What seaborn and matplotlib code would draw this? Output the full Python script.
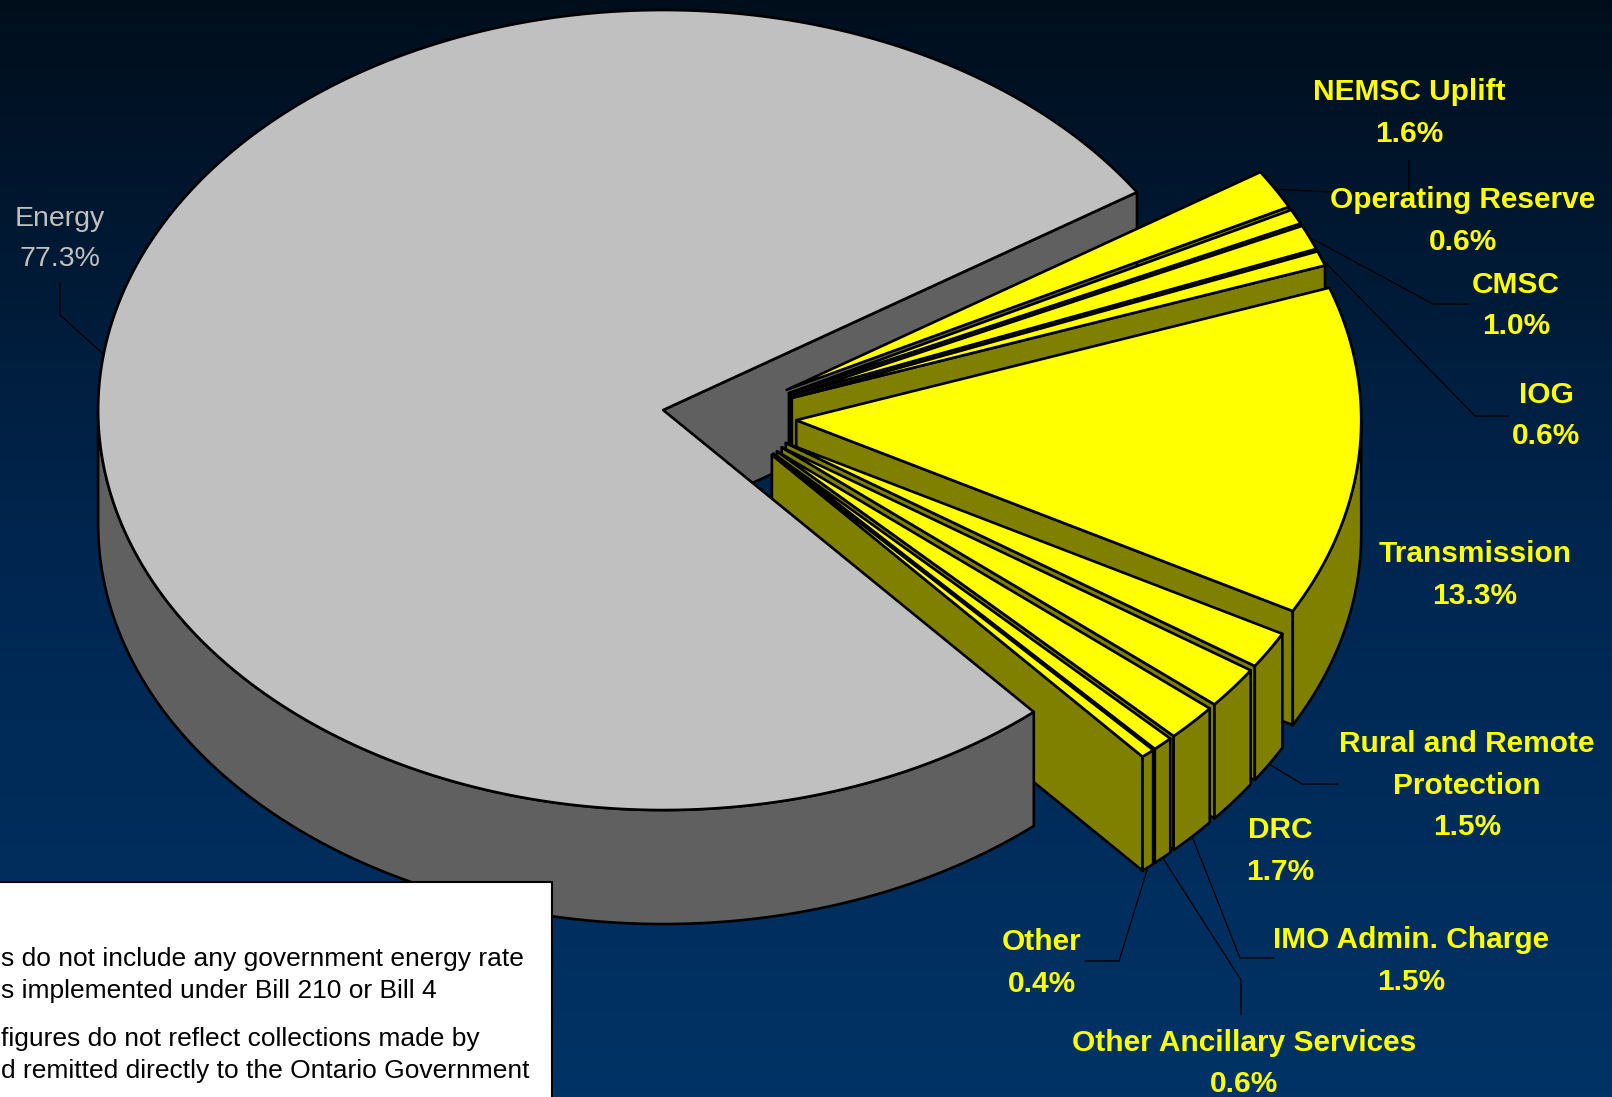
"""
Ontario market charges - exploded 3D pie, rebuilt with seaborn/matplotlib
"""

#Packages:
import numpy as np
import seaborn as sns
import matplotlib.pyplot as plt
from matplotlib.patches import Polygon, Rectangle
from matplotlib.colors import LinearSegmentedColormap

#-----------------------------------
#Data:
labels = ["Energy", "NEMSC Uplift", "Operating Reserve", "CMSC", "IOG",
          "Transmission", "Rural and Remote\nProtection", "DRC",
          "IMO Admin. Charge", "Other Ancillary Services", "Other"]
shares = [77.3, 1.6, 0.6, 1.0, 0.6, 13.3, 1.5, 1.7, 1.5, 0.6, 0.4]

note_lines = ["s do not include any government energy rate",
              "s implemented under Bill 210 or Bill 4",
              "figures do not reflect collections made by",
              "d remitted directly to the Ontario Government"]

#-----------------------------------
#Layout (pixels):
CX, CY = 723, 416        # pie centre
RX, RY = 565, 400        # ellipse radii
DEPTH = 114              # pie thickness
START = -49              # Energy starts here, slices run clockwise
explode = [0.107] + [0.13] * 10
top_colors = ["#c0c0c0"] + ["#ffff00"] * 10
side_colors = ["#606060"] + ["#808000"] * 10

# first line centre of every label
label_xy = [(60, 219), (1409, 92), (1463, 200), (1516, 285), (1546, 395),
            (1475, 554), (1467, 744), (1280, 830), (1411, 940),
            (1244, 1043), (1042, 942)]
# leader lines: anchor on top or bottom of the slice, then elbow points
leaders = {0: ("top", [(60, 315), (60, 282)]),
           1: ("top", [(1409, 196), (1409, 160)]),
           3: ("top", [(1433, 304), (1468, 304)]),
           4: ("top", [(1475, 416), (1509, 416)]),
           6: ("bottom", [(1302, 784), (1338, 784)]),
           8: ("bottom", [(1240, 958), (1274, 958)]),
           9: ("bottom", [(1241, 980), (1241, 1015)]),
           10: ("bottom", [(1119, 961), (1085, 961)])}


#-----------------------------------
#Functions:
def to_px(X, Y, z=0.0):
    return CX + RX * np.asarray(X), CY - RY * np.asarray(Y) + DEPTH * np.asarray(z)


def poly(X, Y, Z):
    sx, sy = to_px(X, Y, Z)
    return np.column_stack([sx, sy])


#-----------------------------------
#Figure:
sns.set_theme(style="white")
plt.rcParams['font.family'] = ['Liberation Sans', 'DejaVu Sans']

fig = plt.figure(figsize=(16.12, 10.97), dpi=100)
ax = fig.add_axes([0, 0, 1, 1])
ax.set_xlim(0, 1612)
ax.set_ylim(1097, 0)
ax.axis('off')

bg = LinearSegmentedColormap.from_list("bg", ["#000e1c", "#002650", "#003366"])
ax.imshow(np.linspace(0, 1, 256).reshape(-1, 1), cmap=bg, aspect='auto',
          extent=(0, 1612, 1097, 0), zorder=0)

total = sum(shares)
spans = [v / total * 360 for v in shares]
his = START - np.concatenate([[0], np.cumsum(spans)[:-1]])
los = his - np.array(spans)

sides = []
tops = []
anchors = []
for i in range(len(shares)):
    lo, hi = los[i], his[i]
    mid = np.radians((lo + hi) / 2)
    ox, oy = explode[i] * np.cos(mid), explode[i] * np.sin(mid)
    anchors.append((ox + np.cos(mid), oy + np.sin(mid)))

    t = np.radians(np.linspace(lo, hi, max(6, int(spans[i] * 3))))
    tops.append((poly(np.r_[ox, ox + np.cos(t)], np.r_[oy, oy + np.sin(t)], 0),
                 top_colors[i]))

    # radial faces, only the ones turned to the viewer
    for ang, show in ((lo, np.cos(np.radians(lo)) > 0), (hi, np.cos(np.radians(hi)) < 0)):
        if show:
            a = np.radians(ang)
            X = [ox, ox + np.cos(a), ox + np.cos(a), ox]
            Y = [oy, oy + np.sin(a), oy + np.sin(a), oy]
            sides.append((oy + 0.5 * np.sin(a), poly(X, Y, [0, 0, 1, 1]), side_colors[i]))

    # outer wall on the front half
    for k in range(-2, 2):
        a, b = max(lo, -180 + 360 * k), min(hi, 360 * k)
        if b - a > 0.01:
            w = np.radians(np.linspace(a, b, max(6, int((b - a) * 3))))
            X = np.r_[ox + np.cos(w), ox + np.cos(w[::-1])]
            Y = np.r_[oy + np.sin(w), oy + np.sin(w[::-1])]
            Z = np.r_[np.zeros(len(w)), np.ones(len(w))]
            sides.append((oy + np.mean(np.sin(w)), poly(X, Y, Z), side_colors[i]))

sides.sort(key=lambda s: -s[0])
for n, (key, xy, col) in enumerate(sides):
    ax.add_patch(Polygon(xy, closed=True, fc=col, ec="black", lw=1.9,
                         joinstyle="round", zorder=2 + n * 0.01))
for xy, col in tops:
    ax.add_patch(Polygon(xy, closed=True, fc=col, ec="black", lw=1.9,
                         joinstyle="round", zorder=3))

# leader lines
for i, (where, elbows) in leaders.items():
    sx, sy = to_px(anchors[i][0], anchors[i][1], 0 if where == "top" else 1)
    pts = [(float(sx), float(sy))] + elbows
    ax.plot([p[0] for p in pts], [p[1] for p in pts], color="black", lw=0.9, zorder=4)

# labels
for i, name in enumerate(labels):
    lines = name.split("\n") + [f"{shares[i]:.1f}%"]
    x, y = label_xy[i]
    if i == 0:
        kw = dict(color="#c0c0c0", fontsize=20.5, fontweight="normal")
        gap = 40
    else:
        kw = dict(color="#ffff00", fontsize=21.5, fontweight="bold")
        gap = 41.5
    for k, line in enumerate(lines):
        ax.text(x, y + k * gap, line, ha="center", va="center", zorder=5, **kw)

# note box
ax.add_patch(Rectangle((-10, 882), 562, 240, fc="white", ec="black", lw=1.5, zorder=6))
for line, y in zip(note_lines, [959, 991, 1039, 1071]):
    ax.text(1, y, line, ha="left", va="center", fontsize=19, color="black", zorder=7)

fig.savefig("out.png", dpi=100)
